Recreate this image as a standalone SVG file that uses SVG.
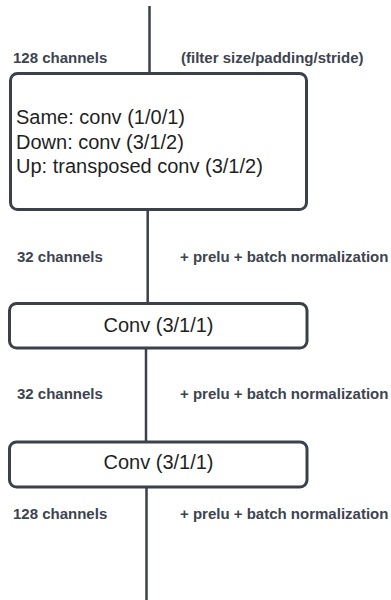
<svg xmlns="http://www.w3.org/2000/svg" width="391" height="600" viewBox="0 0 391 600">
  <style>
    .bg { fill: #ffffff; }
    .box { fill: #ffffff; stroke: #3a414a; stroke-width: 3; }
    .wire { stroke: #3a414a; stroke-width: 2.5; fill: none; }
    .lbl { font-family: "Liberation Sans", Arial, sans-serif; font-size: 15px; font-weight: bold; fill: #3d4450; }
    .txt { font-family: "Liberation Sans", Arial, sans-serif; font-size: 20px; fill: #1f1f1f; }
  </style>
  <rect class="bg" x="0" y="0" width="391" height="600"/>

  <!-- connectors between the blocks -->
  <g id="connectors">
    <line class="wire" x1="149.5" y1="6" x2="149.5" y2="73.5"/>
    <line class="wire" x1="147.7" y1="209.5" x2="147.7" y2="303.5"/>
    <line class="wire" x1="146" y1="348" x2="146" y2="442"/>
    <line class="wire" x1="146.5" y1="487" x2="146.5" y2="600"/>
  </g>

  <!-- channel counts and layer notes -->
  <g id="labels">
    <text class="lbl" x="13" y="62.5">128 channels</text>
    <text class="lbl" x="181" y="62.5">(filter size/padding/stride)</text>
    <text class="lbl" x="17" y="261.5">32 channels</text>
    <text class="lbl" x="180" y="261.5">+ prelu + batch normalization</text>
    <text class="lbl" x="17" y="398.5">32 channels</text>
    <text class="lbl" x="180" y="398.5">+ prelu + batch normalization</text>
    <text class="lbl" x="13" y="518.5">128 channels</text>
    <text class="lbl" x="180" y="518.5">+ prelu + batch normalization</text>
  </g>

  <g id="resample">
    <rect class="box" x="10.5" y="73.5" width="296" height="136" rx="7"/>
    <text class="txt" x="16" y="124">Same: conv (1/0/1)</text>
    <text class="txt" x="16" y="148.5">Down: conv (3/1/2)</text>
    <text class="txt" x="16" y="172.5">Up: transposed conv (3/1/2)</text>
  </g>

  <g id="conv1">
    <rect class="box" x="9.5" y="303.5" width="297.5" height="44.5" rx="7"/>
    <text class="txt" x="158.5" y="332" text-anchor="middle">Conv (3/1/1)</text>
  </g>

  <g id="conv2">
    <rect class="box" x="9.5" y="442" width="297.5" height="45" rx="7"/>
    <text class="txt" x="158.5" y="469" text-anchor="middle">Conv (3/1/1)</text>
  </g>
</svg>
